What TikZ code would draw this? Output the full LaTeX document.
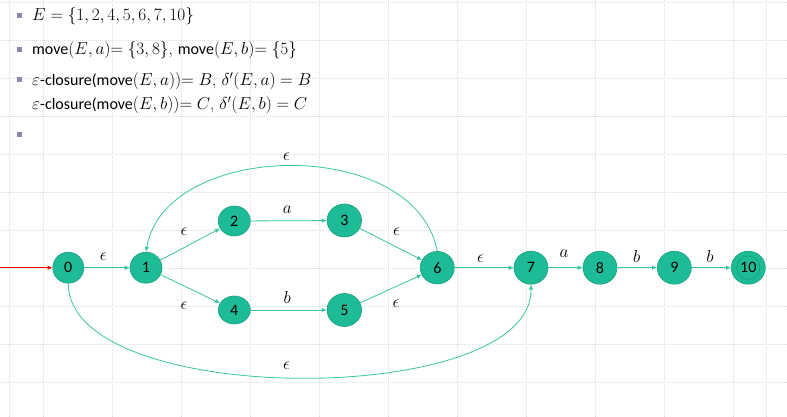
\documentclass[tikz,border=0pt]{standalone}
\usepackage{fontspec}
\newfontfamily\calib{Carlito}
\newcommand{\sw}[1]{{\calib\fontsize{16}{19}\selectfont #1}}
\usetikzlibrary{shapes.geometric,arrows.meta}
\definecolor{nodefill}{RGB}{30,188,150}
\definecolor{nodedraw}{RGB}{22,158,124}
\definecolor{edgecol}{RGB}{56,198,162}
\definecolor{gridcol}{RGB}{222,222,222}
\definecolor{bulletcol}{RGB}{140,134,172}
\tikzset{
  gridline/.style={draw=gridcol, line width=0.6pt, dash pattern=on 1pt off 1pt},
  state/.style={ellipse, draw=nodedraw, fill=nodefill, line width=0.6pt, inner sep=0pt,
    font=\calib\fontsize{16}{16}\selectfont},
  trans/.style={draw=edgecol, line width=0.8pt, -{Latex[length=5pt,width=4.5pt]}},
  startarr/.style={draw=red, line width=0.8pt, -{Latex[length=5pt,width=4.5pt]}},
  lbl/.style={inner sep=0pt, font=\fontsize{17}{17}\selectfont},
  txt/.style={inner sep=0pt, anchor=base west, font=\fontsize{16.8}{19}\selectfont},
  bulletbox/.style={rectangle, fill=bulletcol, minimum size=5pt, inner sep=0pt},
}
\begin{document}
\begin{tikzpicture}[x=1pt,y=-1pt]
\useasboundingbox (0,0) rectangle (787,417);
\fill[white] (0,0) rectangle (787,417);
% grid
\foreach \k in {0,...,10} {
  \draw[gridline] ({43.3+69*\k},0) -- ({43.3+69*\k},417);
  \draw[gridline] (0,{2+38*\k}) -- (787,{2+38*\k});
}
\draw[gridline] (9.3,0) -- (9.3,417);
\draw[gridline] (766.7,0) -- (766.7,417);

% bullets and text
\node[bulletbox] (b1) at (19,15.7) {};
\node[bulletbox] (b2) at (19,49.3) {};
\node[bulletbox] (b3) at (19,80) {};
\node[bulletbox] (b4) at (19,134.5) {};
\node[txt] (t1) at (32,21) {$E=\{1,2,4,5,6,7,10\}$};
\node[txt] (t2) at (32,54.5) {\sw{move}$(E,a){=}\;\{3,8\}$, \sw{move}$(E,b){=}\;\{5\}$};
\node[txt] (t3) at (32,86) {$\varepsilon$\sw{-closure(move}$(E,a)){=}\;B$, $\delta'(E,a)=B$};
\node[txt] (t4) at (32,110) {$\varepsilon$\sw{-closure(move}$(E,b)){=}\;C$, $\delta'(E,b)=C$};

% states
\node[state, minimum width=31pt, minimum height=31pt] (n0) at (68.3,267.7) {0};
\node[state, minimum width=32pt, minimum height=31pt] (n1) at (146,267.7) {1};
\node[state, minimum width=32pt, minimum height=30pt] (n2) at (234.3,221) {2};
\node[state, minimum width=34.5pt, minimum height=33pt] (n3) at (344.3,220.5) {3};
\node[state, minimum width=32pt, minimum height=28pt] (n4) at (234.3,310) {4};
\node[state, minimum width=34.5pt, minimum height=33pt] (n5) at (344.3,310) {5};
\node[state, minimum width=34pt, minimum height=32.5pt] (n6) at (437.3,267.7) {6};
\node[state, minimum width=34pt, minimum height=33pt] (n7) at (531,267.7) {7};
\node[state, minimum width=34pt, minimum height=33pt] (n8) at (600,267.7) {8};
\node[state, minimum width=34pt, minimum height=33pt] (n9) at (674.3,267.7) {9};
\node[state, minimum width=34pt, minimum height=33pt] (n10) at (748.3,267.7) {10};
\draw[nodedraw, line width=0.7pt] (n10.center) circle (11.7);

% start arrow
\coordinate (s) at (0,267.7);
\draw[startarr] (s) -- (n0);

% transitions
\draw[trans] (n0) -- (n1);
\draw[trans] (n1) -- (n2);
\draw[trans] (n1) -- (n4);
\draw[trans] (n2) -- (n3);
\draw[trans] (n4) -- (n5);
\draw[trans] (n3) -- (n6);
\draw[trans] (n5) -- (n6);
\draw[trans] (n6) -- (n7);
\draw[trans] (n7) -- (n8);
\draw[trans] (n8) -- (n9);
\draw[trans] (n9) -- (n10);
\draw[trans] (n6.north) .. controls (415,135) and (165,140) .. (n1.north);
\draw[trans] (n0.south) .. controls (68,409) and (533,409) .. (n7.south);

% labels
\node[lbl] (l01) at (103.3,256.7) {$\epsilon$};
\node[lbl] (l12) at (184,231.7) {$\epsilon$};
\node[lbl] (l14) at (184,306) {$\epsilon$};
\node[lbl] (l23) at (287.3,210) {$a$};
\node[lbl] (l45) at (287.3,297.5) {$b$};
\node[lbl] (l36) at (396.5,231.7) {$\epsilon$};
\node[lbl] (l56) at (396,303.3) {$\epsilon$};
\node[lbl] (l67) at (480.5,258.3) {$\epsilon$};
\node[lbl] (l78) at (564,253.5) {$a$};
\node[lbl] (l89) at (636.7,256) {$b$};
\node[lbl] (l910) at (710,256) {$b$};
\node[lbl] (l61) at (286.5,156.5) {$\epsilon$};
\node[lbl] (l07) at (286.5,366) {$\epsilon$};
\end{tikzpicture}
\end{document}
